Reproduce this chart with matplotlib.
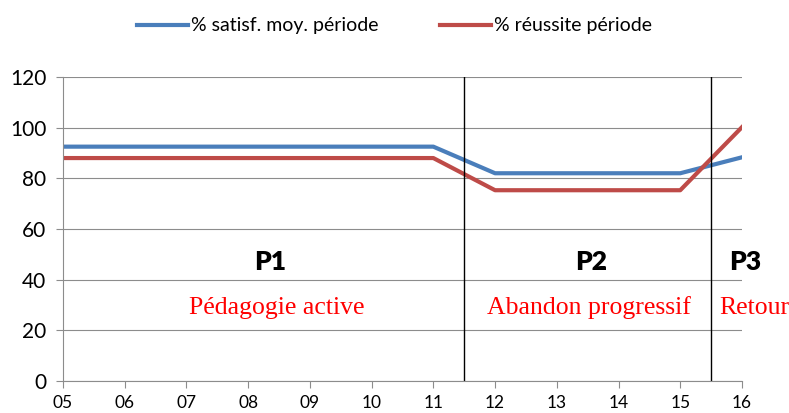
import numpy as np
import matplotlib.pyplot as plt

years = ['05', '06', '07', '08', '09', '10', '11', '12', '13', '14', '15', '16']
satisf = [92.5, 92.5, 92.5, 92.5, 92.5, 92.5, 92.5, 82, 82, 82, 82, 88.3]
reussite = [88, 88, 88, 88, 88, 88, 88, 75.3, 75.3, 75.3, 75.3, 100.2]
breaks = [6.5, 10.5]
periods = ['P1', 'P2', 'P3']
period_x = [3.35, 8.55, 11.05]
period_notes = ['Pédagogie active', 'Abandon progressif', 'Retour']
note_x = [3.47, 8.52, 11.2]

plt.rcParams['font.family'] = ['Lato', 'DejaVu Sans']

fig = plt.figure(figsize=(7.89, 4.13), dpi=100)
ax = fig.add_axes([0.0798, 0.0775, 0.8606, 0.7361])

x = np.arange(len(years))
ax.plot(x, satisf, color='#4a7ebb', lw=3, label='% satisf. moy. période', solid_joinstyle='round')
ax.plot(x, reussite, color='#be4b48', lw=3, label='% réussite période', solid_joinstyle='round')

for b in breaks:
    ax.axvline(b, color='black', lw=1)

for px, p in zip(period_x, periods):
    ax.text(px, 47, p, ha='center', va='center', fontsize=19, fontweight='heavy')
for nx, n in zip(note_x, period_notes):
    ax.text(nx, 29, n, ha='center', va='center', fontsize=18.5, color='red',
            family='Liberation Serif', clip_on=False)

ax.set_xlim(0, len(years) - 1)
ax.set_ylim(0, 120)
ax.set_yticks(range(0, 121, 20))
ax.set_xticks(x)
ax.set_xticklabels(years)
ax.grid(axis='y', color='#8c8c8c', lw=0.8)
ax.set_axisbelow(True)
for s in ['top', 'right']:
    ax.spines[s].set_visible(False)
ax.spines['left'].set_color('#8c8c8c')
ax.spines['bottom'].set_color('#8c8c8c')
ax.tick_params(axis='y', labelsize=15, length=5, color='#8c8c8c', pad=7)
ax.tick_params(axis='x', labelsize=12.5, length=5, color='#8c8c8c', pad=5)

fig.legend(loc='upper center', bbox_to_anchor=(0.5, 1.0), ncol=2, frameon=False,
           fontsize=14, handlelength=2.6, columnspacing=3.2, handletextpad=0.15)

fig.savefig('out.png', dpi=100)
